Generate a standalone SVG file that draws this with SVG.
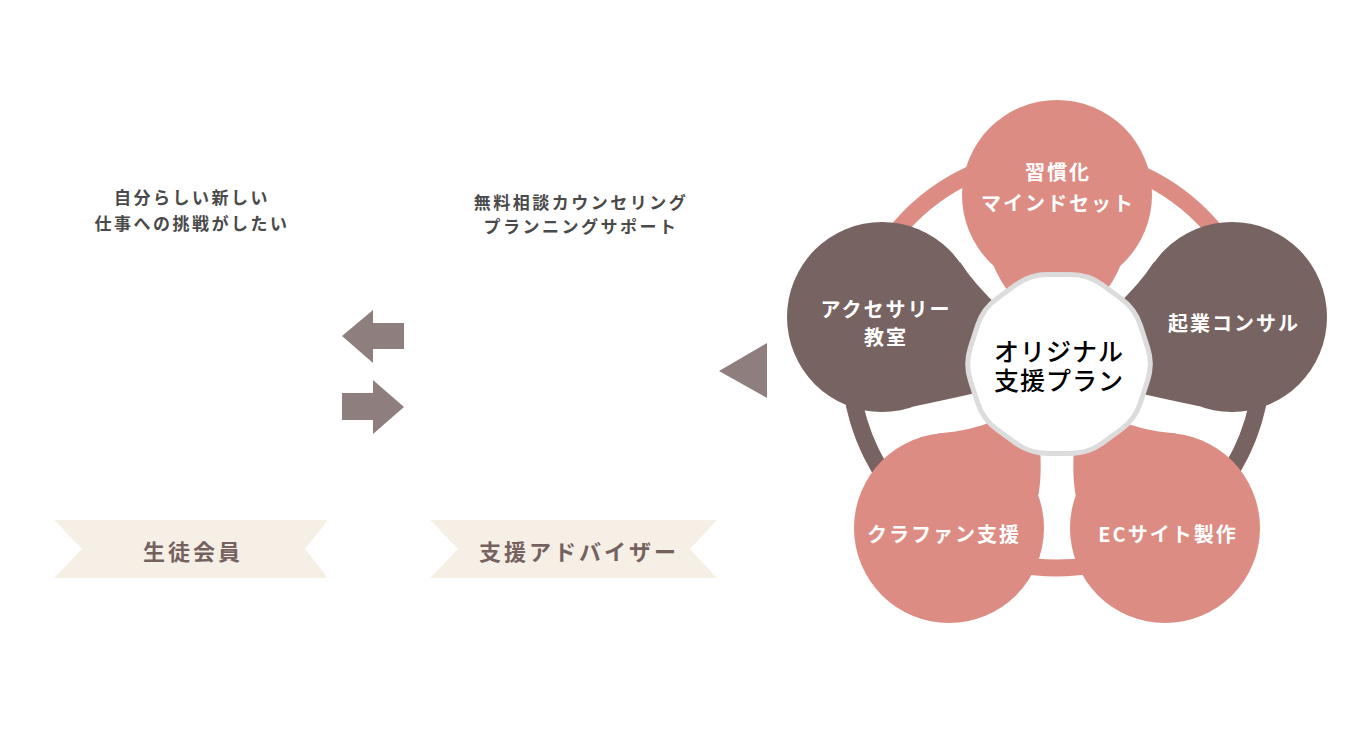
<svg xmlns="http://www.w3.org/2000/svg" width="1366" height="744" viewBox="0 0 1366 744">
<style>
.t{font-family:"Noto Sans CJK JP","Noto Sans",sans-serif;}
.q{font-size:17px;font-weight:700;fill:#4a4a4a;letter-spacing:2.5px;text-anchor:middle;}
.b{font-size:20px;font-weight:700;fill:#ffffff;letter-spacing:2px;text-anchor:middle;}
.c{font-size:25px;font-weight:500;fill:#000000;letter-spacing:1px;text-anchor:middle;}
.r{font-size:22px;font-weight:700;fill:#75625f;letter-spacing:3px;text-anchor:middle;}
.pk{fill:#dd8c83;}
.dk{fill:#776462;}
.ar{fill:#8e7f7e;}
.ban{fill:#f6efe6;}
</style>
<rect width="1366" height="744" fill="#ffffff"/>

<g id="text-student" class="t">
<text class="q" x="192" y="204">自分らしい新しい</text>
<text class="q" x="192" y="230">仕事への挑戦がしたい</text>
</g>
<g id="text-advisor" class="t">
<text class="q" x="581" y="209">無料相談カウンセリング</text>
<text class="q" x="581" y="233">プランニングサポート</text>
</g>

<g id="connectors">
<path class="ar" d="M342,336 L373,310 L373,323 L404,323 L404,349 L373,349 L373,363 Z"/>
<path class="ar" d="M342,393 L373,393 L373,380 L404,407 L373,434 L373,420 L342,420 Z"/>
<path class="ar" d="M719,371 L767,343 L767,398 Z"/>
</g>

<g id="banner-student">
<path class="ban" d="M54,520 L328,520 L305,549 L328,578 L54,578 L82,549 Z"/>
<text class="t r" x="193" y="560">生徒会員</text>
</g>
<g id="banner-advisor">
<path class="ban" d="M430,520 L717,520 L690,549 L717,578 L430,578 L458,549 Z"/>
<text class="t r" x="579" y="560">支援アドバイザー</text>
</g>

<g id="ring">
<circle cx="1056" cy="362" r="206" fill="none" stroke="#dd8c83" stroke-width="17"/>
<path d="M856.6,310.4 A206 206 0 0 0 944.4,535.2" fill="none" stroke="#776462" stroke-width="17"/>
<path d="M1255.4,310.4 A206 206 0 0 1 1167.6,535.2" fill="none" stroke="#776462" stroke-width="17"/>
</g>

<g id="node-habit">
<path class="pk" d="M992,262 Q1000,282 1012,296 L1102,296 Q1114,282 1122,262 Z"/>
<circle class="pk" cx="1057" cy="195" r="95"/>
<text class="t b" x="1058" y="180">習慣化</text>
<text class="t b" x="1058" y="211">マインドセット</text>
</g>
<g id="node-accessory">
<path class="dk" d="M882,317 L960,262 Q975,285 1000,308 L1040,364 L980,392 Q945,400 914.5,406.3 Z"/>
<circle class="dk" cx="882" cy="317" r="95"/>
<text class="t b" x="886" y="317">アクセサリー</text>
<text class="t b" x="886" y="345">教室</text>
</g>
<g id="node-consult">
<path class="dk" d="M1232,317 L1154,262 Q1139,285 1114,308 L1074,364 L1134,392 Q1169,400 1199.5,406.3 Z"/>
<circle class="dk" cx="1232" cy="317" r="95"/>
<text class="t b" x="1234" y="331">起業コンサル</text>
</g>
<g id="node-crowdfunding">
<path class="pk" d="M949,528 L938,433.6 Q975,430 995,420 L1059,400 L1040,448 Q1042,475 1038.3,495.5 Z"/>
<circle class="pk" cx="949" cy="528" r="95"/>
<text class="t b" x="944" y="542">クラファン支援</text>
</g>
<g id="node-ec">
<path class="pk" d="M1165,528 L1176,433.6 Q1139,430 1119,420 L1055,400 L1074,448 Q1072,475 1075.7,495.5 Z"/>
<circle class="pk" cx="1165" cy="528" r="95"/>
<text class="t b" x="1168" y="542">ECサイト製作</text>
</g>

<g id="node-center">
<path d="M1147.6,380.6 L1140.4,402.7 Q1135.05,419.25 1121,429.5 L1102.2,443.2 Q1088.05,453.4 1070.6,453.4 L1047.4,453.4 Q1029.95,453.4 1015.9,443.2 L997.1,429.5 Q982.95,419.25 977.6,402.7 L970.4,380.6 Q965,364 970.4,347.4 L977.6,325.3 Q982.95,308.75 997.1,298.5 L1015.9,284.8 Q1029.95,274.6 1047.4,274.6 L1070.6,274.6 Q1088.05,274.6 1102.2,284.8 L1121,298.5 Q1135.05,308.75 1140.4,325.3 L1147.6,347.4 Q1153,364 1147.6,380.6 Z" fill="#ffffff" stroke="#dcdcdc" stroke-width="5"/>
<text class="t c" x="1059" y="361">オリジナル</text>
<text class="t c" x="1059" y="390">支援プラン</text>
</g>
</svg>
